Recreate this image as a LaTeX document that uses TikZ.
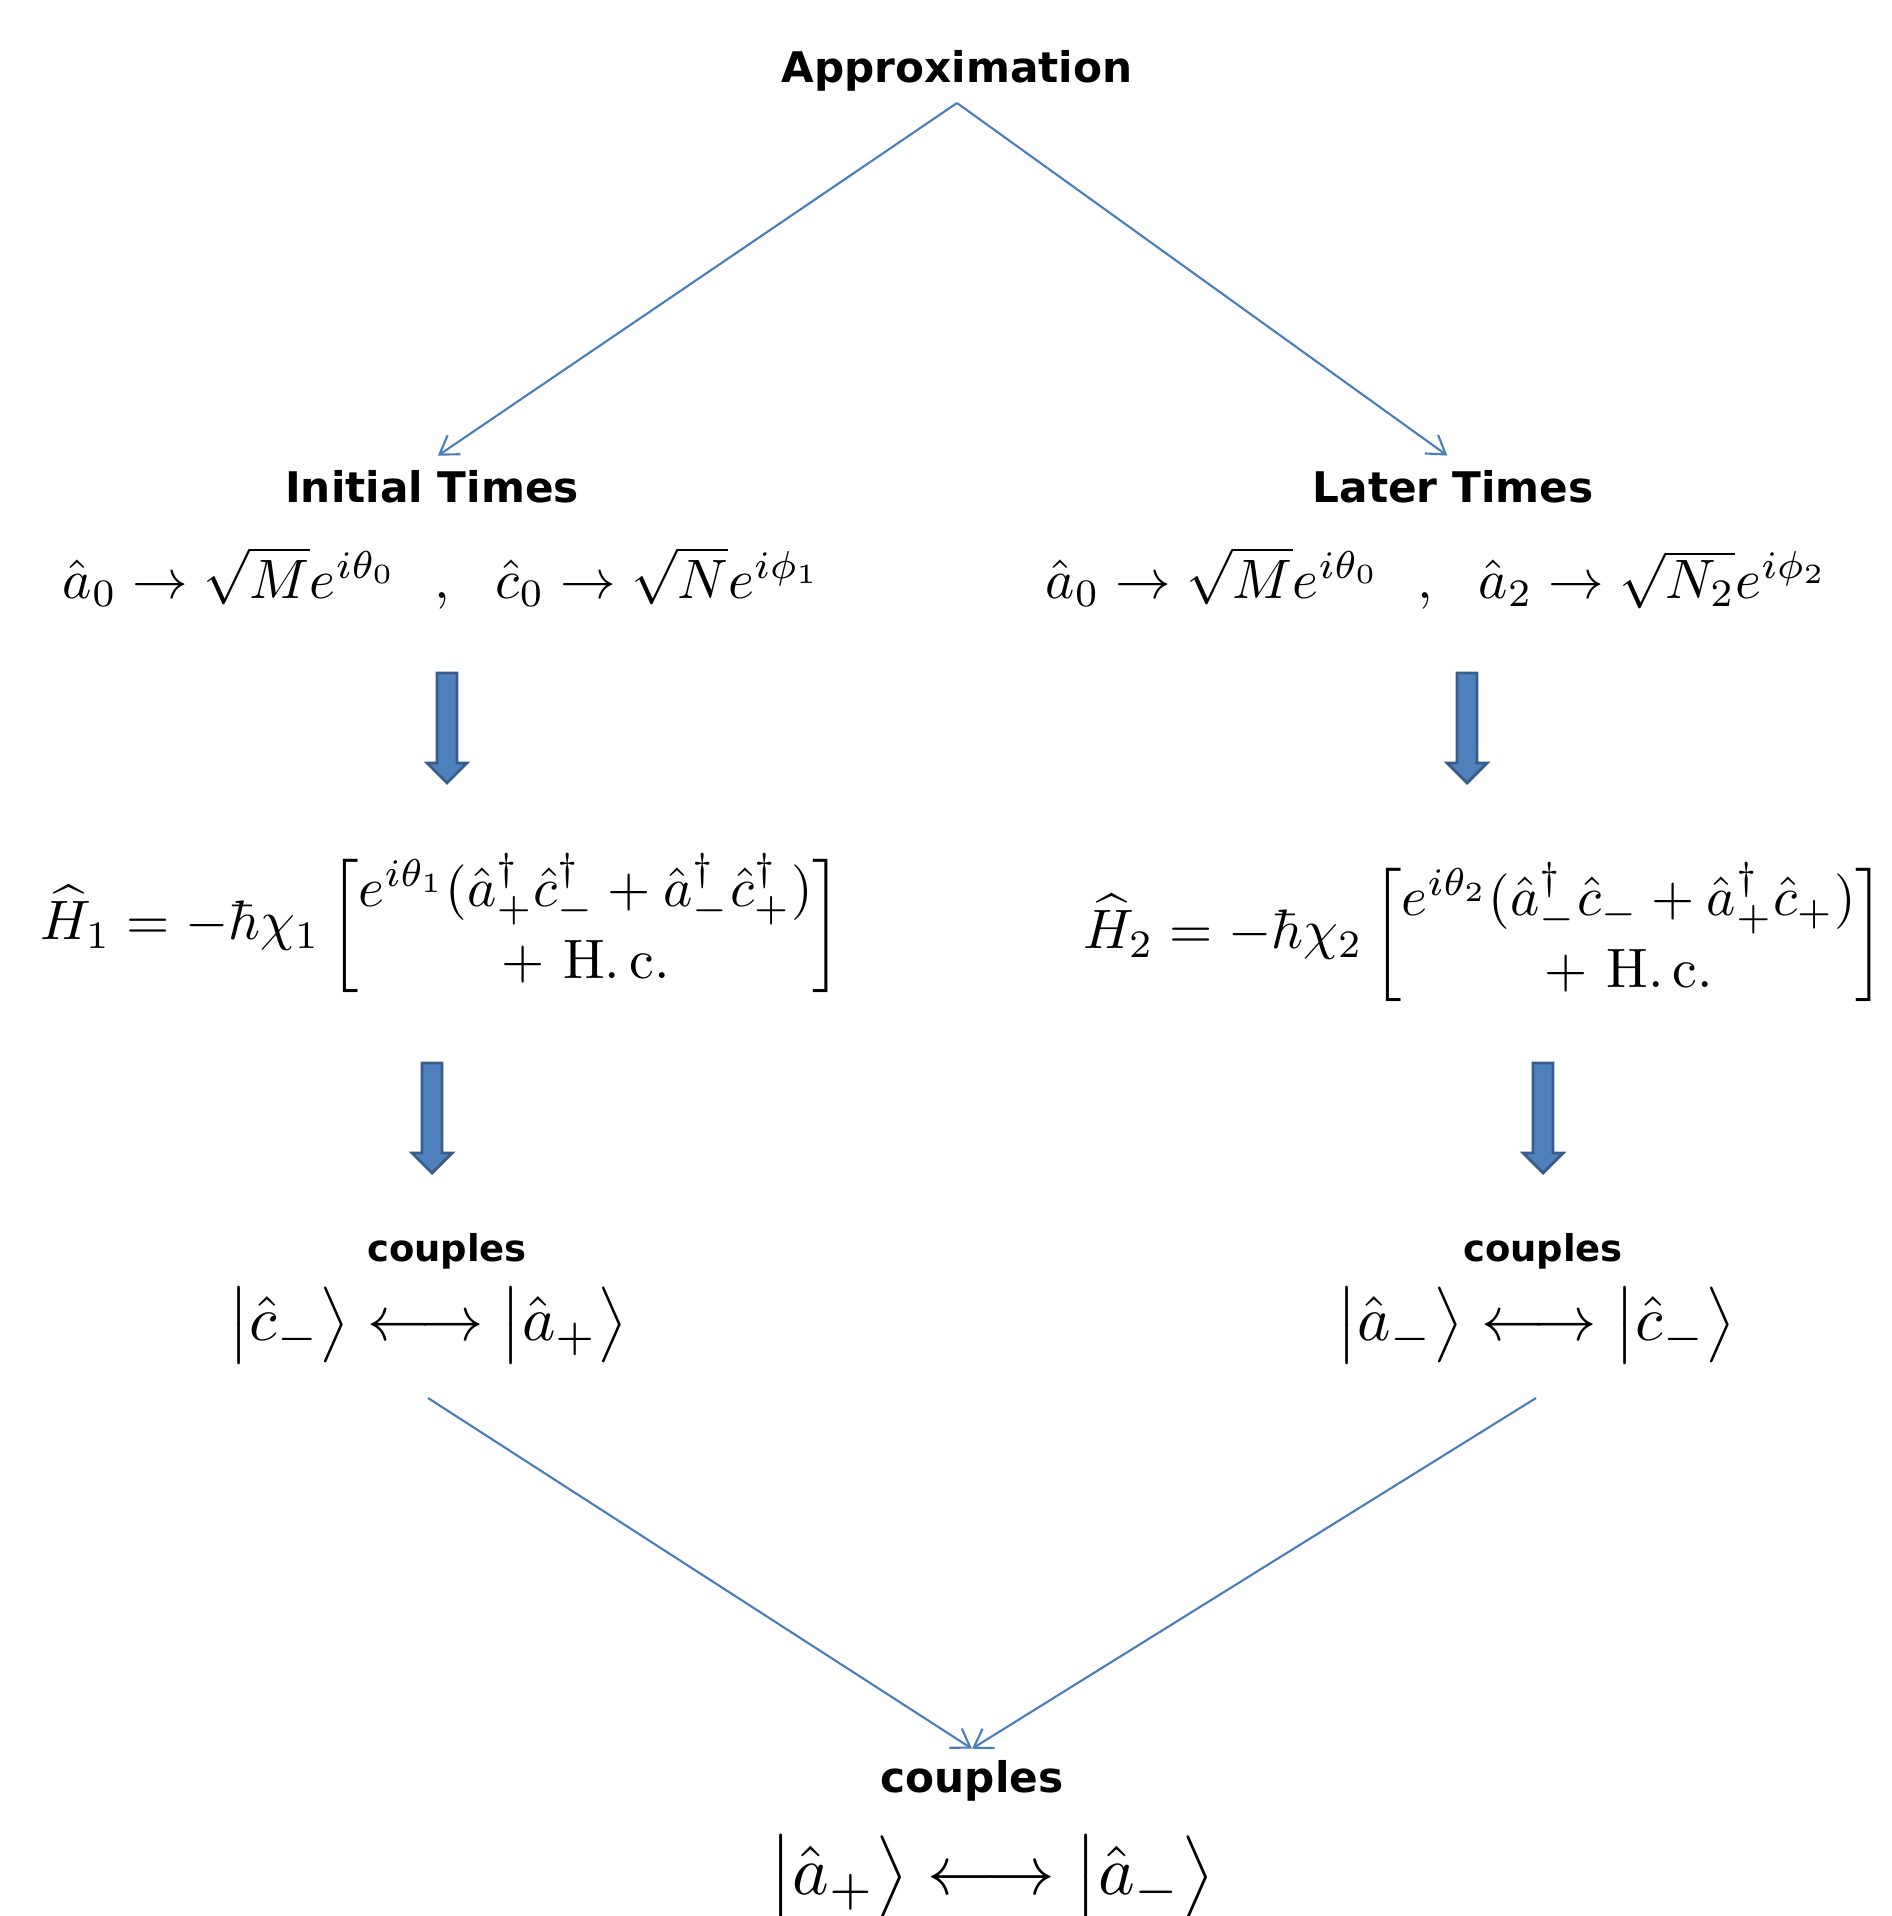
\documentclass[tikz,border=0pt]{standalone}
\usepackage{amsmath}
\usepackage{amssymb}
\usepackage{fontspec}
\newfontfamily\headfont{DejaVu Sans}
\usetikzlibrary{arrows.meta}
\definecolor{linkblue}{HTML}{4A7EBB}
\definecolor{arrowfill}{HTML}{4F81BD}
\definecolor{arrowedge}{HTML}{385D8A}

\begin{document}
\begin{tikzpicture}[x=0.01cm, y=-0.01cm,
        title/.style={font=\headfont\bfseries\fontsize{12}{14}\selectfont, inner sep=3pt, anchor=base},
        subtitle/.style={font=\headfont\bfseries\fontsize{10.5}{12}\selectfont, inner sep=3pt, anchor=base},
        eqn/.style={scale=1.58, inner sep=2pt},
        ket/.style={scale=1.8, inner sep=2pt},
        link/.style={draw=linkblue, line width=0.6pt, -{Straight Barb[length=5pt,width=6.5pt]}},
        fatarrow/.style={fill=arrowfill, draw=arrowedge, line width=0.8pt}]
            \useasboundingbox (0,0) rectangle (1891,1916);

            \node[title] (approx) at (957,83) {Approximation};
            \node[title] (initial) at (432,503) {Initial Times};
            \node[title] (later) at (1453,503) {Later Times};

            \node[eqn] (eqL) at (442,578) {$\hat{a}_0 \rightarrow \sqrt{M}e^{i\theta_0}\ \ ,\ \ \hat{c}_0 \rightarrow \sqrt{N}e^{i\phi_1}$};
            \node[eqn] (eqR) at (1437,578) {$\hat{a}_0 \rightarrow \sqrt{M}e^{i\theta_0}\ \ ,\ \ \hat{a}_2 \rightarrow \sqrt{N_2}e^{i\phi_2}$};

            \node[eqn] (hamL) at (441,926) {$\widehat{H}_1 = -\hbar\chi_1\begin{bmatrix} e^{i\theta_1}(\hat{a}_+^\dagger\hat{c}_-^\dagger + \hat{a}_-^\dagger\hat{c}_+^\dagger)\\[1pt] +\ \mathrm{H.\,c.}\end{bmatrix}$};
            \node[eqn] (hamR) at (1484,935) {$\widehat{H}_2 = -\hbar\chi_2\begin{bmatrix} e^{i\theta_2}(\hat{a}_-^\dagger\hat{c}_- + \hat{a}_+^\dagger\hat{c}_+)\\[1pt] +\ \mathrm{H.\,c.}\end{bmatrix}$};

            % thick down arrows
            \foreach \x/\y in {447/673,1467/673,432/1063,1543/1063} {
                \draw[fatarrow] (\x-10,\y) -- (\x+10,\y) -- (\x+10,\y+90) -- (\x+20,\y+90)
                    -- (\x,\y+110) -- (\x-20,\y+90) -- (\x-10,\y+90) -- cycle;
            }

            \node[subtitle] (couplesL) at (447,1261) {couples};
            \node[subtitle] (couplesR) at (1543,1261) {couples};
            \node[ket] (ketL) at (428,1325) {$\bigl\lvert\hat{c}_-\bigr\rangle \longleftrightarrow \bigl\lvert\hat{a}_+\bigr\rangle$};
            \node[ket] (ketR) at (1536,1325) {$\bigl\lvert\hat{a}_-\bigr\rangle \longleftrightarrow \bigl\lvert\hat{c}_-\bigr\rangle$};

            \node[title] (couplesB) at (972,1792) {couples};
            \node[ket, scale=1.1] (ketB) at (992,1877) {$\bigl\lvert\hat{a}_+\bigr\rangle \longleftrightarrow \bigl\lvert\hat{a}_-\bigr\rangle$};

            \draw[link, shorten >=2pt] (approx.south) -- (initial.north);
            \draw[link, shorten >=2pt] (approx.south) -- (later.north);
            \draw[link] ([yshift=-6pt]ketL.south) -- (couplesB.north);
            \draw[link] ([yshift=-6pt]ketR.south) -- (couplesB.north);
\end{tikzpicture}
\end{document}
